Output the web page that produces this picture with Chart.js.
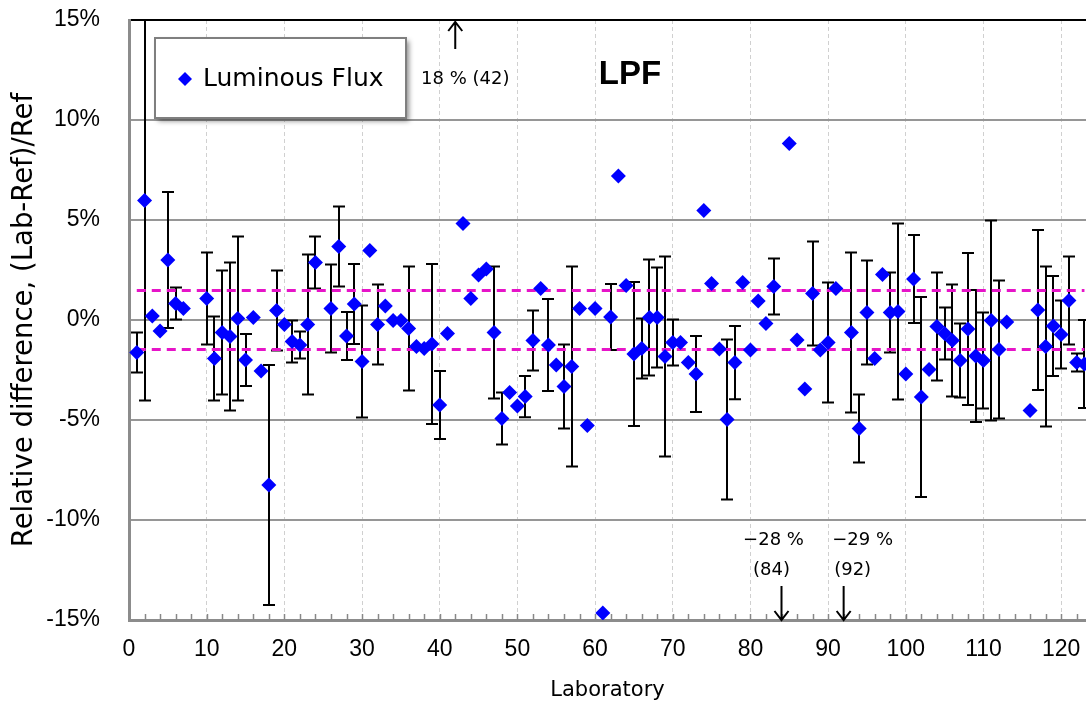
<!DOCTYPE html>
<html>
<head>
<meta charset="utf-8">
<title>LPF luminous flux</title>
<script src="https://cdn.jsdelivr.net/npm/chart.js@4.4.0/dist/chart.umd.min.js"></script>
<style>
  html, body { margin: 0; padding: 0; background: #fff; }
  #wrap { width: 1086px; height: 708px; }
  canvas { display: block; }
</style>
</head>
<body>
<div id="wrap"><canvas id="chart" width="1086" height="708"></canvas></div>
<script>
// laboratory numbers and relative difference (%), with expanded uncertainty (%)
const labs = [1, 2, 3, 4, 5, 6, 7, 10, 11, 12, 13, 14, 15, 16, 17, 18, 19, 20,
  21, 22, 23, 24, 26, 27, 28, 29, 30, 31, 32, 33, 34, 35, 36, 37, 38, 39, 40,
  41, 43, 44, 45, 46, 47, 48, 49, 50, 51, 52, 53, 54, 55, 56, 57, 58, 59, 60,
  61, 62, 63, 64, 65, 66, 67, 68, 69, 70, 71, 72, 73, 74, 75, 76, 77, 78, 79, 80,
  81, 82, 83, 85, 86, 87, 88, 89, 90, 91, 93, 94, 95, 96, 97, 98, 99, 100,
  101, 102, 103, 104, 105, 106, 107, 108, 109, 110, 111, 112, 113, 116, 117,
  118, 119, 120, 121, 122, 123];
const flux = [-1.63, 5.97, 0.2, -0.55, 3.0, 0.83, 0.58, 1.08, -1.93, -0.63, -0.83, 0.08, -2.0, 0.12, -2.55, -8.25, 0.47, -0.22,
  -1.08, -1.25, -0.22, 2.88, 0.58, 3.68, -0.8, 0.8, -2.08, 3.47, -0.22, 0.7, -0.03, -0.03, -0.43, -1.33, -1.42, -1.2, -4.25,
  -0.67, 4.83, 1.07, 2.25, 2.55, -0.63, -4.93, -3.63, -4.3, -3.83, -1.03, 1.58, -1.25, -2.25, -3.33, -2.33, 0.57, -5.28, 0.58,
  -14.65, 0.15, 7.2, 1.73, -1.7, -1.42, 0.12, 0.12, -1.83, -1.12, -1.12, -2.13, -2.7, 5.47, 1.82, -1.45, -4.97, -2.13, 1.87, -1.5,
  0.95, -0.17, 1.67, 8.83, -1.0, -3.45, 1.33, -1.5, -1.12, 1.58, -0.63, -5.43, 0.37, -1.93, 2.28, 0.37, 0.43, -2.7,
  2.05, -3.85, -2.47, -0.33, -0.67, -1.03, -2.03, -0.45, -1.8, -2.03, -0.03, -1.47, -0.1, -4.53, 0.5,
  -1.33, -0.3, -0.72, 0.98, -2.12, -2.2];
const uncert = [1.0, 10.0, 0, 0, 3.4, 0.8, 0, 2.3, 2.1, 3.1, 3.7, 4.1, 1.3, 0, 0, 6.0, 2.0, 0,
  1.05, 0.67, 3.5, 1.3, 2.2, 2.0, 1.2, 2.0, 2.8, 0, 2.0, 0, 0, 0, 3.1, 0, 0, 4.0, 1.7,
  0, 0, 0, 0, 0, 3.3, 1.3, 0, 0, 1.03, 1.5, 0, 2.3, 0, 2.1, 5.0, 0, 0, 0,
  0, 1.65, 0, 0, 3.6, 1.5, 2.9, 2.5, 5.0, 1.15, 0, 0, 1.9, 0, 0, 0, 4.0, 1.83, 0, 0,
  0, 0, 1.4, 0, 0, 0, 2.6, 0, 3.0, 0, 4.0, 1.7, 2.6, 0, 0, 2.0, 4.4, 0,
  2.2, 5.0, 0, 2.7, 1.3, 2.8, 1.85, 3.8, 3.3, 2.4, 5.0, 3.45, 0, 0, 4.0,
  4.0, 2.5, 1.7, 2.2, 0.45, 2.2];

// results outside the plotted range
const offLabs = [42, 84, 92];
const offVals = [18, -28, -29];

const limit = 1.47;        // dashed band (+/-)
const yTicks = [-15, -10, -5, 0, 5, 10, 15];

const ctx = document.getElementById("chart").getContext("2d");
const TICK_FONT = "'Liberation Sans', Arial, sans-serif";
const NOTE_FONT = "'DejaVu Sans', sans-serif";

const errorBars = {
  id: "errorBars",
  beforeDatasetsDraw(chart) {
    const c = chart.ctx, xs = chart.scales.x, ys = chart.scales.y, a = chart.chartArea;
    c.save();
    c.beginPath();
    c.rect(a.left, a.top, a.right - a.left, a.bottom - a.top);
    c.clip();
    c.strokeStyle = "#000";
    c.lineWidth = 2;
    labs.forEach((lab, i) => {
      const e = uncert[i];
      if (!e) return;
      const x = Math.round(xs.getPixelForValue(lab));
      const y1 = ys.getPixelForValue(flux[i] + e);
      const y2 = ys.getPixelForValue(flux[i] - e);
      c.beginPath();
      c.moveTo(x, y1); c.lineTo(x, y2);
      c.moveTo(x - 6, y1); c.lineTo(x + 6, y1);
      c.moveTo(x - 6, y2); c.lineTo(x + 6, y2);
      c.stroke();
    });
    c.restore();
  },
};

const extras = {
  id: "extras",
  afterDraw(chart) {
    const c = chart.ctx, xs = chart.scales.x, a = chart.chartArea;
    c.save();
    // minor tick marks on the x axis (every 2)
    c.strokeStyle = "#888";
    c.lineWidth = 1.5;
    for (let v = 2; v < xs.max; v += 2) {
      const x = Math.round(xs.getPixelForValue(v)) + 0.5;
      c.beginPath();
      c.moveTo(x, a.bottom - 6);
      c.lineTo(x, a.bottom);
      c.stroke();
    }

    // off-scale arrows
    c.fillStyle = "#000";
    c.strokeStyle = "#000";
    c.lineWidth = 2;
    offLabs.forEach((lab, i) => {
      const x = xs.getPixelForValue(lab);
      const up = offVals[i] > 0;
      const tip = up ? a.top + 2 : a.bottom;
      const tail = up ? tip + 27 : tip - 34;
      const d = up ? 1 : -1;
      c.beginPath();
      c.moveTo(x, tail); c.lineTo(x, tip);
      c.moveTo(x - 7, tip + d * 9); c.lineTo(x, tip); c.lineTo(x + 7, tip + d * 9);
      c.stroke();
      c.font = "18px " + NOTE_FONT;
      c.textAlign = "center";
      c.textBaseline = "middle";
      const val = (offVals[i] < 0 ? "\u2212" + Math.abs(offVals[i]) : offVals[i]) + " %";
      if (up) {
        c.fillText(val + " (" + lab + ")", x + 10, tip + 57);
      } else {
        c.fillText(val, x + (i === 1 ? -8 : 19), tip - 80);
        c.fillText("(" + lab + ")", x + (i === 1 ? -10 : 9), tip - 50);
      }
    });

    // title inside the plot
    c.font = "bold 33px " + TICK_FONT;
    c.textAlign = "center";
    c.textBaseline = "middle";
    c.fillText("LPF", 630, 75);

    // legend box
    const bx = 155, by = 38, bw = 251, bh = 80;
    c.save();
    c.shadowColor = "rgba(0,0,0,0.45)";
    c.shadowBlur = 5;
    c.shadowOffsetX = 3;
    c.shadowOffsetY = 3;
    c.fillStyle = "#fff";
    c.fillRect(bx, by, bw, bh);
    c.restore();
    c.strokeStyle = "#7f7f7f";
    c.lineWidth = 2;
    c.strokeRect(bx, by, bw, bh);
    c.fillStyle = "#0000ff";
    c.beginPath();
    c.moveTo(185, 72); c.lineTo(192, 79); c.lineTo(185, 86); c.lineTo(178, 79);
    c.closePath();
    c.fill();
    c.fillStyle = "#000";
    c.font = "25px " + NOTE_FONT;
    c.textAlign = "left";
    c.fillText(chart.data.datasets[0].label, 203, 79);
    c.restore();
  },
};

const pts = labs.map((lab, i) => ({ x: lab, y: flux[i] }));
const first = labs[0], last = labs[labs.length - 1];

new Chart(ctx, {
  type: "scatter",
  data: {
    datasets: [
      {
        label: "Luminous Flux",
        data: pts,
        pointStyle: "rectRot",
        pointRadius: 7.5,
        pointHoverRadius: 7.5,
        backgroundColor: "#0000ff",
        borderWidth: 0,
        order: 0,
      },
      {
        label: "upper",
        type: "line",
        data: [{ x: first, y: limit }, { x: last, y: limit }],
        borderColor: "#e614c8",
        borderWidth: 3,
        borderDash: [9, 6],
        pointRadius: 0,
        order: 1,
      },
      {
        label: "lower",
        type: "line",
        data: [{ x: first, y: -limit }, { x: last, y: -limit }],
        borderColor: "#e614c8",
        borderWidth: 3,
        borderDash: [9, 6],
        pointRadius: 0,
        order: 1,
      },
    ],
  },
  options: {
    responsive: false,
    animation: false,
    layout: { autoPadding: false, padding: { top: 20, left: 0, right: 0, bottom: 0 } },
    plugins: { legend: { display: false }, tooltip: { enabled: false } },
    scales: {
      x: {
        type: "linear",
        min: 0,
        max: 123.2,
        afterFit: (s) => {
          s.height = 88;
          s.paddingLeft = 0;
          s.paddingRight = 0;
        },
        afterBuildTicks: (s) => {
          s.ticks = [];
          for (let v = 0; v <= 120; v += 10) s.ticks.push({ value: v });
        },
        ticks: {
          autoSkip: false,
          maxRotation: 0,
          padding: 16,
          color: "#000",
          font: { family: TICK_FONT, size: 23 },
        },
        grid: {
          drawTicks: false,
          lineWidth: 1,
          color: (c) => (c.tick && c.tick.value > 0 ? "#d0d0d0" : "rgba(0,0,0,0)"),
        },
        border: { display: true, color: "#8c8c8c", width: 3, dash: [4, 3] },
        title: {
          display: true,
          text: "Laboratory",
          color: "#000",
          font: { family: NOTE_FONT, size: 21 },
          padding: { top: 0, bottom: 5 },
        },
      },
      y: {
        min: -15,
        max: 15,
        afterFit: (s) => {
          s.width = 129;
          s.paddingTop = 0;
          s.paddingBottom = 0;
        },
        afterBuildTicks: (s) => { s.ticks = yTicks.map((v) => ({ value: v })); },
        ticks: {
          padding: 29,
          color: "#000",
          font: { family: TICK_FONT, size: 23 },
          callback: (v) => v + "%",
        },
        grid: {
          drawTicks: false,
          lineWidth: 2,
          color: (c) => (c.tick && c.tick.value === 15 ? "#000" : "#969696"),
        },
        border: { display: true, color: "#8c8c8c", width: 3 },
        title: {
          display: true,
          text: "Relative difference, (Lab-Ref)/Ref",
          color: "#000",
          font: { family: NOTE_FONT, size: 27.5 },
          padding: { top: 8, bottom: 0 },
        },
      },
    },
  },
  plugins: [errorBars, extras],
});
</script>
</body>
</html>
